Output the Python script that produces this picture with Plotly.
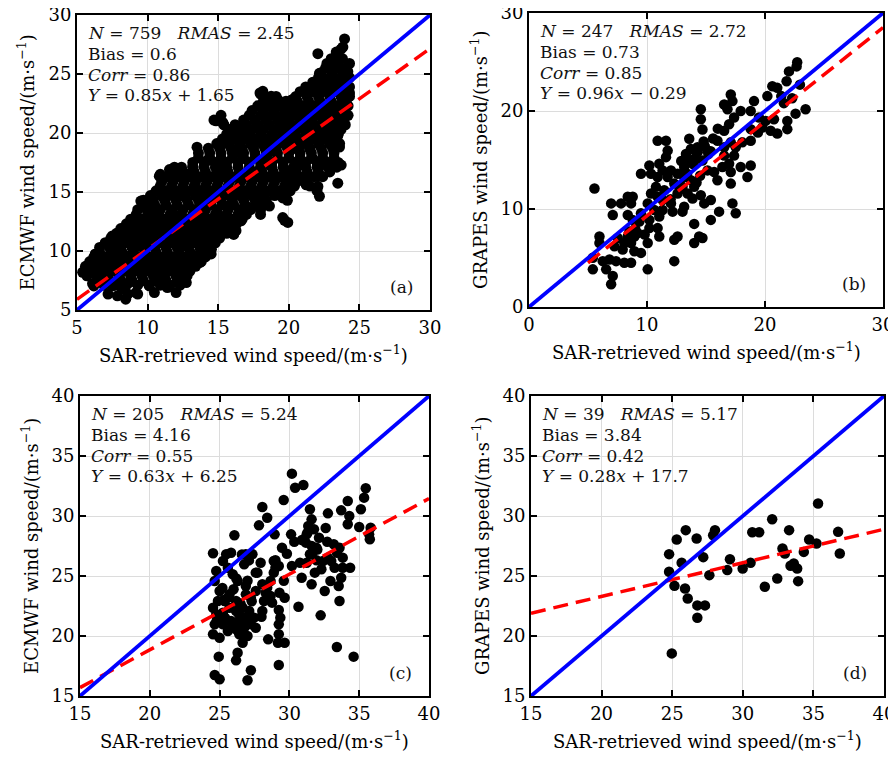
import plotly.graph_objects as go

# ---------------- data ----------------
# panel (a) ECMWF vs SAR, outline / isolated points
a_x = [5.4, 6.0, 6.3, 6.1, 7.2, 8.6, 9.3, 7.4, 7.9, 8.5, 9.55, 10.0, 10.9, 11.9, 12.8, 14.7, 15.2, 13.5,
       14.4, 11.4, 13.1, 14.5, 16.1, 18.0, 19.7, 19.9, 18.0, 18.5, 20.2, 16.5, 16.1,
       23.95, 23.83, 23.36, 23.47, 22.06, 23.0, 22.17, 24.3, 24.18, 23.24, 22.77, 23.83, 24.3, 24.07,
       23.36, 23.47, 23.47, 23.59, 23.71, 23.47, 22.06, 22.17, 22.06, 22.88, 22.29, 21.7, 22.65, 22.29,
       21.47, 20.76, 20.28, 20.4, 19.81, 19.22, 18.75, 18.16, 18.27, 18.39, 19.46, 19.93, 20.99, 21.47,
       20.99, 20.28, 19.81, 19.57, 19.93, 19.57, 18.63, 17.92, 17.21, 16.74, 16.26, 16.62, 15.32, 14.61,
       16.74, 17.68, 18.63, 18.63, 17.45, 16.26, 15.32, 16.74, 16.03, 15.32, 14.85, 16.62, 19.34, 20.52,
       20.76, 21.23, 19.81, 16.97, 15.79, 15.32, 16.74,
       5.6, 6.31, 6.19, 7.14, 7.5, 7.86, 8.45, 9.17, 8.21, 7.5, 7.5, 8.21, 8.57, 7.98, 8.93, 9.52, 9.88,
       10.83, 11.55, 12.26, 12.98, 13.33, 14.29, 15.12, 15.6, 10.6, 11.31, 12.26, 11.79, 11.07, 9.88, 9.4,
       8.69, 9.17, 9.88, 10.6, 11.31, 11.31, 12.26, 12.74, 13.45, 13.69, 14.52, 14.64, 13.45, 12.5, 11.79,
       12.98, 13.93, 15.12, 15.6, 14.64, 13.69, 13.21, 15.83, 16.07, 15.12, 10.6, 10.12, 10.48, 12.02,
       12.74, 8.69, 6.55, 6.79, 16.54, 17.96]
a_y = [8.2, 8.2, 9.75, 7.25, 6.35, 6.35, 6.35, 8.6, 10.3, 11.7, 13.7, 14.0, 16.5, 17.1, 16.5, 21.1, 21.5, 18.8,
       17.7, 6.9, 9.75, 9.75, 11.4, 13.1, 12.6, 14.3, 23.3, 22.8, 22.8, 20.4, 18.5,
       27.97, 27.28, 26.86, 26.17, 26.72, 25.61, 25.06, 25.89, 25.2, 24.64, 23.94, 24.22, 23.4, 22.56,
       21.72, 20.75, 19.78, 18.81, 17.28, 15.75, 15.47, 14.64, 16.3, 17.0, 17.28, 17.83, 19.5, 20.61,
       21.72, 22.0, 22.83, 22.0, 21.86, 22.83, 23.11, 23.53, 22.28, 21.44, 20.75, 20.06, 19.5, 18.67,
       17.28, 17.0, 15.89, 14.5, 12.42, 12.83, 13.81, 14.5, 13.67, 13.39, 11.72, 12.56, 12.0, 11.17,
       16.17, 16.72, 17.28, 18.39, 18.94, 18.39, 19.22, 20.47, 20.33, 20.89, 21.03, 20.33, 19.22, 18.67,
       16.17, 15.61, 15.06, 15.06, 15.06, 16.72, 17.83,
       8.45, 9.72, 7.04, 8.17, 7.04, 6.2, 5.92, 6.48, 6.76, 9.01, 11.27, 11.83, 12.11, 10.99, 11.27, 14.23,
       13.66, 16.34, 16.9, 16.62, 16.34, 15.49, 17.75, 19.15, 19.58, 13.24, 14.65, 14.65, 13.24, 11.83,
       11.83, 10.42, 9.58, 8.45, 9.01, 7.61, 7.04, 8.45, 7.89, 9.01, 9.58, 9.01, 10.14, 10.99, 11.27,
       10.42, 10.99, 12.68, 13.24, 12.96, 13.8, 14.65, 14.37, 17.18, 16.06, 18.59, 17.46, 9.58, 7.04, 6.48,
       6.48, 7.32, 7.32, 8.45, 7.61, 20.5, 23.4]
# panel (a) dense core, row by row (ECMWF value : SAR values)
a_core = {
    7.1: [6.9, 7.7, 8.5, 9.3, 10.1, 10.9, 11.6, 12.3],
    7.5: [6.5, 7.3, 8.1, 8.9, 9.7, 10.5, 11.3, 12.1],
    7.9: [5.7, 6.4, 7.2, 8.0, 8.8, 9.6, 10.4, 11.2, 12.0, 12.8],
    8.3: [5.9, 6.7, 7.5, 8.3, 9.1, 9.9, 10.7, 11.5, 12.3, 13.0],
    8.7: [5.6, 6.3, 7.1, 7.9, 8.7, 9.5, 10.3, 11.1, 11.9, 12.7, 13.4],
    9.1: [5.9, 6.7, 7.5, 8.3, 9.1, 9.9, 10.7, 11.5, 12.3, 13.1, 13.8],
    9.5: [6.2, 7.0, 7.8, 8.6, 9.4, 10.2, 11.0, 11.8, 12.6, 13.4, 14.1],
    9.9: [6.6, 7.4, 8.2, 9.0, 9.8, 10.6, 11.4, 12.2, 13.0, 13.8, 14.4],
    10.3: [6.6, 7.3, 8.1, 8.9, 9.7, 10.5, 11.3, 12.1, 12.9, 13.7, 14.4],
    10.7: [7.0, 7.7, 8.5, 9.3, 10.1, 10.9, 11.7, 12.5, 13.3, 14.1, 14.8],
    11.1: [7.4, 8.2, 9.0, 9.8, 10.6, 11.4, 12.2, 13.0, 13.8, 14.6, 15.1],
    11.5: [7.8, 8.6, 9.4, 10.2, 11.0, 11.8, 12.6, 13.4, 14.2, 15.0, 15.6],
    11.9: [8.1, 8.9, 9.7, 10.5, 11.3, 12.1, 12.9, 13.7, 14.5, 15.3, 15.9],
    12.3: [8.5, 9.3, 10.1, 10.9, 11.7, 12.5, 13.3, 14.1, 14.9, 15.7, 16.3],
    12.7: [8.8, 9.6, 10.4, 11.2, 12.0, 12.8, 13.6, 14.4, 15.2, 16.0, 16.7],
    13.1: [9.2, 10.0, 10.8, 11.6, 12.4, 13.2, 14.0, 14.8, 15.6, 16.4, 17.0],
    13.5: [9.3, 10.1, 10.9, 11.7, 12.5, 13.3, 14.1, 14.9, 15.7, 16.5, 17.3, 18.0],
    13.9: [9.7, 10.5, 11.3, 12.1, 12.9, 13.7, 14.5, 15.3, 16.1, 16.9, 17.7, 18.3],
    14.3: [9.7, 10.4, 11.2, 12.0, 12.8, 13.6, 14.4, 15.2, 16.0, 16.8, 17.6, 18.4],
    14.7: [10.2, 11.0, 11.8, 12.6, 13.4, 14.2, 15.0, 15.8, 16.6, 17.4, 18.2, 19.0, 19.7],
    15.1: [10.6, 11.4, 12.2, 13.0, 13.8, 14.6, 15.4, 16.2, 17.0, 17.8, 18.6, 19.4, 20.1, 22.0],
    15.5: [10.9, 11.7, 12.5, 13.3, 14.1, 14.9, 15.7, 16.5, 17.3, 18.1, 18.9, 19.7, 20.4, 21.5],
    15.9: [11.0, 11.8, 12.6, 13.4, 14.2, 15.0, 15.8, 16.6, 17.4, 18.2, 19.0, 19.8, 20.6, 21.3],
    16.3: [11.4, 12.2, 13.0, 13.8, 14.6, 15.4, 16.2, 17.0, 17.8, 18.6, 19.4, 20.2, 21.0, 21.8, 22.4],
    16.7: [11.7, 12.5, 13.3, 14.1, 14.9, 15.7, 16.5, 17.3, 18.1, 18.9, 19.7, 20.5, 21.3, 22.1, 22.9],
    17.1: [12.4, 13.2, 14.0, 14.8, 15.6, 16.4, 17.2, 18.0, 18.8, 19.6, 20.4, 21.2, 22.0, 22.8, 23.4],
    17.5: [13.2, 14.0, 14.8, 15.6, 16.4, 17.2, 18.0, 18.8, 19.6, 20.4, 21.2, 22.0, 22.8, 23.5],
    17.9: [13.6, 14.4, 15.2, 16.0, 16.8, 17.6, 18.4, 19.2, 20.0, 20.8, 21.6, 22.4, 23.2],
    18.3: [13.6, 14.4, 15.2, 16.0, 16.8, 17.6, 18.4, 19.2, 20.0, 20.8, 21.6, 22.4, 23.2],
    18.7: [14.3, 15.1, 15.9, 16.7, 17.5, 18.3, 19.1, 19.9, 20.7, 21.5, 22.3, 23.1],
    19.1: [14.9, 15.7, 16.5, 17.3, 18.1, 18.9, 19.7, 20.5, 21.3, 22.1, 22.9, 23.6],
    19.5: [15.3, 16.1, 16.9, 17.7, 18.5, 19.3, 20.1, 20.9, 21.7, 22.5, 23.2],
    19.9: [15.6, 16.4, 17.2, 18.0, 18.8, 19.6, 20.4, 21.2, 22.0, 22.8, 23.5],
    20.3: [15.8, 16.6, 17.4, 18.2, 19.0, 19.8, 20.6, 21.4, 22.2, 23.0, 23.7],
    20.7: [15.4, 16.2, 17.0, 17.8, 18.6, 19.4, 20.2, 21.0, 21.8, 22.6, 23.4, 24.0],
    21.1: [16.8, 17.6, 18.4, 19.2, 20.0, 20.8, 21.6, 22.4, 23.2, 23.9],
    21.5: [17.2, 18.0, 18.8, 19.6, 20.4, 21.2, 22.0, 22.8, 23.6, 24.2],
    21.9: [17.4, 18.2, 19.0, 19.8, 20.6, 21.4, 22.2, 23.0, 23.8],
    22.3: [17.8, 18.6, 19.4, 20.2, 21.0, 21.8, 22.6, 23.4, 24.2],
    22.7: [18.2, 19.0, 19.8, 20.6, 21.4, 22.2, 23.0, 23.8],
    23.1: [18.3, 19.1, 20.5, 21.3, 22.1, 22.9, 23.7, 24.3],
    23.5: [20.8, 21.6, 22.4, 23.2, 24.0],
    23.9: [21.2, 22.0, 22.8, 23.6, 24.3],
    24.3: [21.7, 22.5, 23.3, 24.0],
    24.7: [22.1, 22.9, 23.7, 24.3],
    25.1: [22.3, 23.1, 23.9],
    25.5: [22.6, 23.4, 24.1],
    25.9: [22.7, 23.5],
    26.3: [23.0, 23.8],
    26.7: [23.4],
    27.1: [23.7],
}

# panel (b) GRAPES vs SAR
b_x = [22.73, 22.68, 22.03, 21.83, 21.04, 20.62, 20.2, 21.38, 22.96, 23.44, 22.59, 21.89, 21.89, 21.04, 20.48,
       19.77, 20.06, 20.76, 19.49, 18.79, 18.79, 18.08, 18.79, 19.07, 17.94, 17.1, 17.24, 16.54, 16.82, 17.38,
       16.96, 16.54, 15.97, 16.54, 17.1, 17.52, 17.38, 16.54, 16.96, 16.39, 15.69, 15.97, 17.1, 17.94, 18.51,
       18.79, 17.1, 14.56, 14.56, 14.7, 13.58, 13.72, 13.3, 14.0, 14.28, 15.13, 14.7, 15.13, 13.15, 12.59,
       13.15, 13.72, 14.0, 13.44, 13.01, 13.86, 14.56, 15.41, 14.85, 16.11, 17.52, 17.24, 15.41, 14.0, 14.42,
       14.7, 14.0, 12.31, 12.59, 12.31, 13.01, 13.15, 12.17, 12.03, 12.59, 12.31, 11.75, 12.03, 11.32, 11.04,
       10.9, 10.34, 10.2, 9.49, 10.9, 11.61, 11.75, 11.61, 10.76, 10.34, 10.9, 11.46, 11.32, 10.06, 10.62,
       11.32, 11.04, 10.2, 10.2, 10.9, 11.04, 10.06, 9.49, 8.65, 8.37, 7.8, 6.96, 7.1, 8.37, 8.79, 9.35,
       9.21, 8.37, 8.65, 8.08, 7.52, 7.24, 7.94, 8.93, 9.49, 8.51, 8.93, 5.97, 5.97, 5.55, 5.41, 5.41, 6.25,
       6.82, 6.54, 7.1, 6.96, 7.38, 8.08, 8.65, 10.06, 8.79, 14.3, 13.9, 14.9, 15.4, 12.8, 12.0, 9.0, 9.8,
       16.0, 15.6, 13.4, 14.2, 19.4, 21.6, 22.3, 14.8, 15.2, 13.6, 14.5, 12.9]
b_y = [24.98, 24.55, 24.04, 23.03, 22.36, 22.53, 21.52, 21.52, 22.69, 20.17, 19.73, 18.99, 18.15, 17.71, 17.98,
       18.32, 18.99, 19.16, 19.33, 18.15, 16.97, 16.8, 20.0, 21.01, 20.0, 21.68, 21.01, 20.67, 20.17, 19.33,
       18.65, 17.98, 16.97, 16.3, 16.8, 16.3, 15.45, 15.45, 14.61, 14.28, 13.77, 12.93, 13.77, 14.28, 13.27,
       14.44, 12.59, 20.17, 19.16, 18.12, 17.17, 16.13, 15.62, 15.12, 16.3, 15.96, 14.95, 13.94, 14.28, 13.6,
       13.27, 12.93, 12.26, 11.58, 12.26, 11.08, 11.41, 10.91, 10.57, 9.73, 9.56, 10.57, 8.89, 8.48, 7.2,
       7.04, 6.53, 4.68, 7.2, 6.87, 9.73, 10.24, 9.73, 10.57, 11.58, 12.59, 13.27, 13.94, 13.94, 14.61,
       13.27, 13.6, 14.44, 13.6, 16.97, 16.97, 15.96, 15.29, 12.26, 11.58, 11.25, 11.92, 10.91, 10.57, 9.9,
       9.9, 9.23, 8.89, 8.05, 8.05, 7.2, 6.53, 9.56, 10.57, 11.25, 10.57, 10.57, 9.39, 9.39, 8.89, 8.72,
       7.54, 7.2, 6.53, 6.53, 7.04, 6.19, 5.86, 5.69, 5.52, 7.71, 7.2, 7.2, 6.53, 12.09, 5.02, 3.84, 4.68,
       4.85, 3.84, 3.16, 2.32, 4.68, 4.51, 4.51, 3.84, 11.25, 15.8, 14.6, 16.4, 15.9, 12.0, 11.0, 8.0, 7.4,
       18.2, 17.2, 13.6, 12.7, 17.8, 20.8, 21.3, 16.9, 15.6, 14.9, 13.4, 14.9]

# panel (c) ECMWF vs SAR, strong winds
c_x = [30.18, 30.41, 31.0, 29.59, 28.06, 28.41, 27.82, 26.06, 24.53, 35.47, 35.35, 34.18, 35.12, 33.71, 34.29,
       32.76, 31.47, 31.59, 34.18, 35.0, 35.82, 35.76, 30.12, 28.94, 30.35, 31.29, 31.76, 31.18, 32.12, 32.71,
       33.18, 33.41, 31.65, 29.47, 29.0, 29.24, 29.82, 30.18, 30.76, 31.24, 31.94, 30.88, 31.59, 32.53, 32.94,
       33.24, 33.71, 33.82, 33.53, 34.35, 33.59, 32.24, 30.65, 33.4, 34.6, 29.24, 27.24, 27.0, 24.65, 25.0,
       24.94, 26.29, 26.18, 26.65, 28.48, 29.18, 29.66, 29.24, 29.24, 29.35, 29.24, 29.66, 29.29, 28.65,
       28.76, 28.65, 29.0, 27.94, 27.71, 27.35, 26.88, 26.76, 25.82, 25.47, 25.24, 24.76, 24.65, 25.0, 25.59,
       25.94, 26.29, 26.88, 27.59, 27.59, 27.24, 26.88, 26.18, 25.71, 25.35, 24.88, 24.53, 24.76, 25.24,
       25.71, 26.18, 26.65, 27.12, 27.47, 26.88, 26.41, 25.82, 25.24, 24.65, 24.53, 25.0, 25.59, 26.18,
       26.76, 27.24, 27.59, 26.41, 27.0, 28.06, 28.18, 28.41, 28.88, 28.06, 28.88, 31.35, 31.24, 31.94,
       31.47, 32.29, 31.82, 32.76, 32.41, 33.0, 33.59, 33.82, 35.71, 25.2, 25.6, 26.0, 26.5, 27.0, 25.4,
       25.9, 26.4, 26.9, 27.3, 24.8, 25.3, 26.2, 26.6, 27.1, 28.3, 28.0, 30.9, 31.6, 32.0, 32.6, 29.6]
c_y = [33.53, 32.36, 32.58, 31.33, 30.75, 29.86, 29.22, 28.39, 26.89, 32.31, 31.53, 31.25, 30.56, 30.47, 30.0,
       30.22, 30.56, 29.72, 29.31, 29.08, 29.03, 28.06, 28.47, 28.47, 27.86, 28.61, 28.89, 27.78, 28.19, 27.86,
       27.64, 26.94, 26.94, 27.36, 26.31, 25.83, 26.86, 25.83, 26.11, 26.11, 26.31, 24.86, 24.31, 23.75, 24.58,
       25.69, 24.86, 25.69, 24.17, 25.69, 22.92, 21.72, 22.44, 19.08, 18.28, 17.58, 17.14, 16.31, 16.75, 16.39,
       18.28, 18.61, 17.97, 19.44, 19.72, 19.44, 19.44, 20.14, 20.97, 21.53, 22.17, 23.19, 23.61, 23.33,
       22.78, 24.58, 25.69, 26.11, 25.28, 26.81, 26.81, 25.97, 26.94, 26.81, 26.25, 25.42, 24.58, 23.75, 25.69,
       25.14, 24.58, 24.17, 25.28, 23.75, 23.19, 23.47, 22.92, 23.47, 22.92, 22.92, 22.36, 21.81, 21.94,
       22.36, 22.08, 22.36, 22.08, 21.53, 21.53, 21.25, 21.25, 20.97, 20.97, 20.14, 19.86, 20.42, 20.56,
       20.69, 20.97, 20.69, 20.14, 20.0, 22.08, 22.92, 24.03, 25.28, 24.31, 26.25, 29.17, 28.47, 27.36,
       26.81, 25.56, 25.28, 26.53, 26.25, 26.25, 27.36, 26.53, 28.47, 24.0, 23.2, 23.9, 22.7, 24.6, 21.5,
       21.0, 21.8, 21.2, 22.9, 21.3, 23.0, 24.8, 26.8, 26.3, 23.6, 21.6, 28.0, 27.5, 27.2, 29.0, 24.6]

# panel (d) GRAPES vs SAR, strong winds
d_x = [24.78, 24.78, 25.32, 25.96, 25.67, 25.16, 25.91, 26.1, 26.73, 26.78, 27.32, 26.78, 27.2, 27.63,
       28.03, 27.9, 24.97, 28.9, 29.09, 29.99, 30.55, 30.67, 31.16, 31.56, 32.08, 32.44, 32.81, 32.98,
       33.28, 33.38, 33.61, 33.85, 33.92, 34.32, 34.7, 35.22, 35.33, 36.75, 36.87]
d_y = [26.82, 25.35, 28.04, 28.82, 26.1, 24.18, 23.96, 23.13, 28.12, 22.55, 22.55, 21.52, 26.57, 25.07,
       28.82, 28.4, 18.55, 25.49, 26.4, 25.63, 26.1, 28.65, 28.65, 24.1, 29.73, 24.79, 27.29, 26.88,
       28.82, 25.85, 26.04, 25.63, 24.57, 27.01, 28.04, 27.71, 31.04, 28.68, 26.88]

for yy, xs in a_core.items():
    a_x += xs
    a_y += [yy] * len(xs)

panels = ["a", "b", "c", "d"]
pts = {"a": (a_x, a_y), "b": (b_x, b_y), "c": (c_x, c_y), "d": (d_x, d_y)}
ranges = {"a": [5, 30], "b": [0, 30], "c": [15, 40], "d": [15, 40]}
dticks = {"a": 5, "b": 10, "c": 5, "d": 5}
model = {"a": "ECMWF", "b": "GRAPES", "c": "ECMWF", "d": "GRAPES"}
# regression lines: slope, intercept, x start, x end
fit_slope = {"a": 0.85, "b": 0.96, "c": 0.63, "d": 0.28}
fit_icpt = {"a": 1.65, "b": -0.29, "c": 6.25, "d": 17.7}
fit_x0 = {"a": 5, "b": 5, "c": 15, "d": 15}
fit_x1 = {"a": 30, "b": 30, "c": 40, "d": 40}
stats = {
    "a": ["<i>N</i> = 759\u00a0\u00a0\u00a0<i>RMAS</i> = 2.45", "Bias = 0.6", "<i>Corr</i> = 0.86", "<i>Y</i> = 0.85<i>x</i> + 1.65"],
    "b": ["<i>N</i> = 247\u00a0\u00a0\u00a0<i>RMAS</i> = 2.72", "Bias = 0.73", "<i>Corr</i> = 0.85", "<i>Y</i> = 0.96<i>x</i> \u2212 0.29"],
    "c": ["<i>N</i> = 205\u00a0\u00a0\u00a0<i>RMAS</i> = 5.24", "Bias = 4.16", "<i>Corr</i> = 0.55", "<i>Y</i> = 0.63<i>x</i> + 6.25"],
    "d": ["<i>N</i> = 39\u00a0\u00a0\u00a0<i>RMAS</i> = 5.17", "Bias = 3.84", "<i>Corr</i> = 0.42", "<i>Y</i> = 0.28<i>x</i> + 17.7"],
}
msize = {"a": 11, "b": 10.5, "c": 10.5, "d": 10.5}

# the page body keeps its default 8px margin: draw the figure 16px smaller
# so nothing scrolls, and express positions in page pixels minus 8
OFF = 8
W, H = 896 - 2 * OFF, 759 - 2 * OFF
# plot boxes in page pixels (left, right, top, bottom)
boxes = {"a": (77, 430, 15, 310), "b": (529, 883, 13, 307), "c": (80, 429, 396, 696), "d": (531, 884, 396, 696)}

FONT = "DejaVu Serif, Liberation Serif, serif"
fig = go.Figure()
layout = dict(width=W, height=H, margin=dict(l=0, r=0, t=0, b=0), template="none",
              plot_bgcolor="white", paper_bgcolor="white", showlegend=False,
              font=dict(family=FONT, size=18, color="black"))
annots = []
for i, p in enumerate(panels):
    n = "" if i == 0 else str(i + 1)
    xa, ya = "x" + n, "y" + n
    l, r, t, b = [v - OFF for v in boxes[p]]
    ax = dict(range=ranges[p], dtick=dticks[p], tick0=0, showgrid=True, gridcolor="#dcdcdc", gridwidth=1,
              zeroline=False, showline=True, linecolor="black", linewidth=2, mirror="ticks",
              ticks="inside", ticklen=6, tickwidth=1.5, tickcolor="black", ticklabeloverflow="allow",
              tickfont=dict(family=FONT, size=18, color="black"), automargin=False)
    layout["xaxis" + n] = dict(ax, domain=[l / W, r / W], anchor=ya)
    layout["yaxis" + n] = dict(ax, domain=[1 - b / H, 1 - t / H], anchor=xa)

    xs, ys = pts[p]
    fig.add_trace(go.Scatter(x=xs, y=ys, mode="markers", xaxis=xa, yaxis=ya,
                             marker=dict(color="black", size=msize[p], line=dict(width=0))))
    fx = [fit_x0[p], fit_x1[p]]
    fig.add_trace(go.Scatter(x=fx, y=[fit_slope[p] * v + fit_icpt[p] for v in fx], mode="lines",
                             xaxis=xa, yaxis=ya, line=dict(color="#ff0000", width=3.5, dash="15px,8px")))
    fig.add_trace(go.Scatter(x=ranges[p], y=ranges[p], mode="lines", xaxis=xa, yaxis=ya,
                             line=dict(color="#0000ff", width=3.8)))

    for k, txt in enumerate(stats[p]):
        annots.append(dict(text=txt, xref=xa + " domain", yref=ya + " domain", x=0, y=1,
                           xanchor="left", yanchor="middle", xshift=9, yshift=-(18 + k * 20.8),
                           showarrow=False, font=dict(family=FONT, size=17, color="#111")))
    annots.append(dict(text="(%s)" % p, xref=xa + " domain", yref=ya + " domain", x=1, y=0,
                       xanchor="right", yanchor="middle", xshift=-15, yshift=23,
                       showarrow=False, font=dict(family=FONT, size=17, color="#111")))
    annots.append(dict(text="SAR-retrieved wind speed/(m\u00b7s<sup>\u22121</sup>)", xref=xa + " domain",
                       yref=ya + " domain", x=0.5, y=0, xanchor="center", yanchor="middle", yshift=-44,
                       showarrow=False, font=dict(family=FONT, size=18, color="black")))
    annots.append(dict(text=model[p] + " wind speed/(m\u00b7s<sup>\u22121</sup>)", xref=xa + " domain",
                       yref=ya + " domain", x=0, y=0.5, xanchor="center", yanchor="middle", xshift=-50,
                       textangle=-90, showarrow=False, font=dict(family=FONT, size=18, color="black")))

layout["annotations"] = annots
fig.update_layout(**layout)
fig.write_html("out.html")
